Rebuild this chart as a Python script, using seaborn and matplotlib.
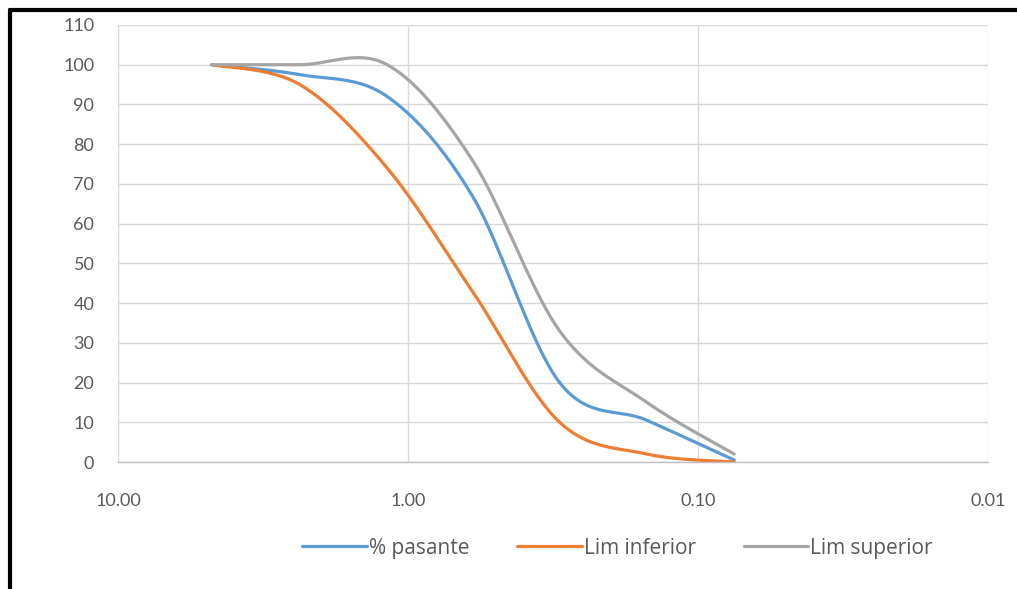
import numpy as np
import pandas as pd
import matplotlib
matplotlib.use("Agg")
import matplotlib.pyplot as plt
from matplotlib.lines import Line2D
import seaborn as sns

# sieve openings (mm) and % passing
sieve_mm = [4.75, 2.36, 1.18, 0.60, 0.30, 0.15, 0.075]
pct_pasante = [100, 97.5, 92, 67, 20, 10.5, 0.5]
lim_inferior = [100, 95, 74, 43, 10, 2, 0]
lim_superior = [100, 100, 100, 76, 33, 15, 2]

series_names = ["% pasante", "Lim inferior", "Lim superior"]
series_colors = ["#5b9bd5", "#ed7d31", "#a5a5a5"]

x_ticks = [10, 1, 0.1, 0.01]
x_ticklabels = ["10.00", "1.00", "0.10", "0.01"]
y_ticks = list(range(0, 111, 10))


def smooth(xs, ys, n=40):
    # Excel style smoothed line (Catmull-Rom in screen-like units)
    u = (1 - np.log10(np.asarray(xs, float))) * 290
    v = np.asarray(ys, float) * 3.97
    pts = np.column_stack([u, v])
    p = np.vstack([pts[0], pts, pts[-1]])
    t = np.linspace(0, 1, n)[:, None]
    segs = []
    for i in range(1, len(p) - 2):
        p0, p1, p2, p3 = p[i - 1], p[i], p[i + 1], p[i + 2]
        c = 0.5 * (2 * p1 + (-p0 + p2) * t
                   + (2 * p0 - 5 * p1 + 4 * p2 - p3) * t ** 2
                   + (-p0 + 3 * p1 - 3 * p2 + p3) * t ** 3)
        segs.append(c)
    out = np.vstack(segs)
    return 10 ** (1 - out[:, 0] / 290), out[:, 1] / 3.97


sns.set_style("white")
plt.rcParams["font.family"] = ["Lato", "DejaVu Sans"]

fig = plt.figure(figsize=(10.17, 5.89), dpi=100)
ax = fig.add_axes([0.116, 0.2156, 0.8555, 0.742])

for name, vals, col in zip(series_names,
                           [pct_pasante, lim_inferior, lim_superior],
                           series_colors):
    sx, sy = smooth(sieve_mm, vals)
    df = pd.DataFrame({"x": sx, "y": sy})
    sns.lineplot(data=df, x="x", y="y", sort=False, estimator=None,
                 color=col, linewidth=2.3, label=name, ax=ax)

ax.set_xscale("log")
ax.set_xlim(10, 0.01)
ax.set_ylim(0, 110)
ax.set_xticks(x_ticks)
ax.set_xticklabels(x_ticklabels)
ax.xaxis.set_minor_locator(matplotlib.ticker.NullLocator())
ax.set_yticks(y_ticks)
ax.set_xlabel("")
ax.set_ylabel("")

ax.grid(True, color="#d9d9d9", linewidth=1.0)
for s in ["top", "right"]:
    ax.spines[s].set_visible(False)
ax.spines["left"].set_visible(False)
ax.spines["bottom"].set_color("#bfbfbf")
ax.spines["bottom"].set_linewidth(1.0)
ax.tick_params(axis="both", length=0, labelsize=13, labelcolor="#595959")
ax.tick_params(axis="x", pad=22)
ax.tick_params(axis="y", pad=17)

leg = ax.legend(loc="center", bbox_to_anchor=(0.574, -0.197), ncol=3,
                frameon=False, prop={"family": "Open Sans", "size": 15},
                handlelength=3.1, handletextpad=0.1, columnspacing=2.3,
                labelcolor="#595959")

# black frame edges of the screenshot
fig.add_artist(Line2D([0.0095, 1.0], [0.983, 0.983], color="black",
                      linewidth=3, transform=fig.transFigure))
fig.add_artist(Line2D([0.0095, 0.0095], [0.0, 0.983], color="black",
                      linewidth=3, transform=fig.transFigure))

fig.savefig("out.png", dpi=100)
